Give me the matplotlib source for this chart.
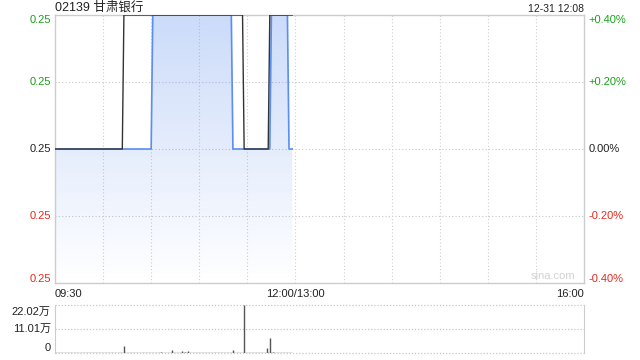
import numpy as np
import matplotlib
matplotlib.use("Agg")
import matplotlib.pyplot as plt
from matplotlib.patches import Polygon

plt.rcParams['font.family'] = ['Liberation Sans', 'Noto Sans CJK SC', 'DejaVu Sans']

title = '02139 甘肃银行'
stamp = '12-31 12:08'
prev_close = 0.25

# minutes after 09:30 (lunch break removed), price
price_t = [0, 42, 43, 117, 118, 133, 134, 148]
price_v = [0.250, 0.250, 0.251, 0.251, 0.250, 0.250, 0.251, 0.251]
# blue line (filled)
avg_t = [0, 60, 61, 110, 111, 134, 135, 145, 146, 148]
avg_v = [0.250, 0.250, 0.251, 0.251, 0.250, 0.250, 0.251, 0.251, 0.250, 0.250]

# volume bars, in 万
vol_t = [43, 66, 73, 79, 81, 83, 111, 118, 132, 134, 136]
vol_v = [3.2, 0.3, 1.4, 1.0, 0.5, 1.0, 1.4, 22.02, 2.3, 6.9, 0.4]
vol_max = 22.02

left_labels = ['0.25', '0.25', '0.25', '0.25', '0.25']
right_labels = ['+0.40%', '+0.20%', '0.00%', '-0.20%', '-0.40%']
label_colors = ['#1a9f1a', '#1a9f1a', '#222222', '#e8281e', '#e8281e']
x_labels = ['09:30', '12:00/13:00', '16:00']
total_min = 330

fig = plt.figure(figsize=(6.4, 3.6), dpi=100)
ax = fig.add_axes([0.0859, 0.2139, 0.8266, 0.7444])
axv = fig.add_axes([0.0859, 0.0194, 0.8266, 0.1333])

ymin, ymax = prev_close * (1 - 0.004), prev_close * (1 + 0.004)
ax.set_xlim(0, total_min)
ax.set_ylim(ymin, ymax)

# gradient fill under blue line
poly_xy = list(zip(avg_t, avg_v)) + [(avg_t[-1], ymin), (avg_t[0], ymin)]
grad = np.linspace(0.32, 0.0, 256).reshape(-1, 1)
rgba = np.zeros((256, 1, 4))
rgba[..., 0] = 0.36
rgba[..., 1] = 0.56
rgba[..., 2] = 0.94
rgba[..., 3] = grad
im = ax.imshow(rgba, extent=[0, total_min, ymin, ymax], aspect='auto',
               origin='upper', zorder=1)
patch = Polygon(poly_xy, closed=True, facecolor='none', edgecolor='none')
ax.add_patch(patch)
im.set_clip_path(patch)

ax.plot(avg_t, avg_v, color='#5a8ef0', lw=1.2, zorder=3)
ax.plot(price_t, price_v, color='#333333', lw=1.0, zorder=4)

ticks = np.linspace(ymax, ymin, 5)
for y in ticks[1:-1]:
    ax.axhline(y, color='#c8c8c8', lw=0.8, ls=(0, (1, 2)), zorder=0)
for m in range(30, total_min, 30):
    ax.axvline(m, color='#d0d0d0', lw=0.8, ls=(0, (1, 2)), zorder=0)
for s in ax.spines.values():
    s.set_color('#cccccc')
    s.set_linewidth(1.0)
ax.set_xticks([])
ax.set_yticks([])

# label positions in axes fraction, end labels kept inside the box
label_pos = [1 - 5 / 268, 0.75, 0.5, 0.25, 4 / 268]
for y, l, r, c in zip(label_pos, left_labels, right_labels, label_colors):
    ax.text(-0.008, y, l, ha='right', va='center', fontsize=8, color=c,
            transform=ax.transAxes)
    ax.text(1.008, y, r, ha='left', va='center', fontsize=8, color=c,
            transform=ax.transAxes)

ax.text(0.983, 0.008, 'sina.com', ha='right', va='bottom', fontsize=8,
        color='#d2d2d2', transform=ax.transAxes)

ax.text(0, -0.022, x_labels[0], ha='left', va='top', fontsize=8, color='#222222',
        transform=ax.transAxes)
ax.text(150 / total_min, -0.022, x_labels[1], ha='center', va='top', fontsize=8,
        color='#222222', transform=ax.transAxes)
ax.text(1, -0.022, x_labels[2], ha='right', va='top', fontsize=8, color='#222222',
        transform=ax.transAxes)

fig.text(0.0859, 0.978, title, ha='left', va='center', fontsize=9, color='#222222')
fig.text(0.9125, 0.975, stamp, ha='right', va='center', fontsize=7.5, color='#222222')

# volume panel
axv.set_xlim(0, total_min)
axv.set_ylim(0, vol_max)
axv.vlines(vol_t, 0, vol_v, color='#555555', lw=1.0)
axv.hlines(0.15, price_t[0], price_t[-1], color='#777777', lw=1.0)
for y in [0, vol_max / 2, vol_max]:
    axv.axhline(y, color='#c8c8c8', lw=0.9, ls=(0, (1, 1.5)), zorder=0, clip_on=False)
axv.spines['top'].set_visible(False)
axv.spines['bottom'].set_visible(False)
axv.spines['left'].set_color('#cccccc')
axv.spines['right'].set_color('#cccccc')
axv.set_xticks([])
axv.set_yticks([])
vol_labels = ['22.02万', '11.01万', '0']
for y, l in zip([0.86, 0.5, 0.1], vol_labels):
    axv.text(-0.008, y, l, ha='right', va='center', fontsize=8, color='#222222',
             transform=axv.transAxes)

fig.savefig('out.png', dpi=100)
